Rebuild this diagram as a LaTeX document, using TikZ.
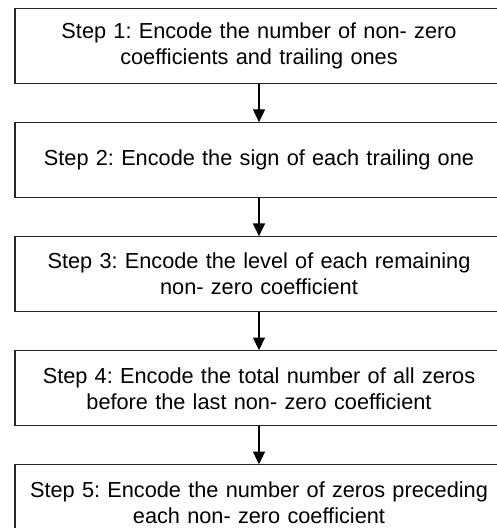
\documentclass[tikz,border=0pt]{standalone}
\usepackage{fontspec}
\setmainfont{Liberation Sans}
\usetikzlibrary{arrows.meta, positioning}
\frenchspacing

\begin{document}
\begin{tikzpicture}[
    node distance=28.5pt,
    every node/.style={font=\fontsize{16.3}{19.5}\selectfont},
    stepbox/.style={rectangle, draw=black!85, line width=0.8pt, minimum width=366pt, minimum height=56.25pt, text width=362pt, align=center, inner sep=0pt},
    arrow/.style={-{Triangle[width=9pt, length=9.5pt]}, line width=0.8pt}
]
\useasboundingbox (0,0) rectangle (372pt,-396pt);

% --- Steps ---
\node[stepbox, anchor=north] (s1) at (194.25pt,-6pt) {Step 1: Encode the number of non- zero\\coefficients and trailing ones};
\node[stepbox, below=of s1] (s2) {Step 2: Encode the sign of each trailing one};
\node[stepbox, below=of s2] (s3) {Step 3: Encode the level of each remaining\\non- zero coefficient};
\node[stepbox, below=of s3] (s4) {Step 4: Encode the total number of all zeros\\before the last non- zero coefficient};
\node[stepbox, below=of s4] (s5) {Step 5: Encode the number of zeros preceding\\each non- zero coefficient};

% --- Connections ---
\draw[arrow] (s1) -- (s2);
\draw[arrow] (s2) -- (s3);
\draw[arrow] (s3) -- (s4);
\draw[arrow] (s4) -- (s5);

\end{tikzpicture}
\end{document}
